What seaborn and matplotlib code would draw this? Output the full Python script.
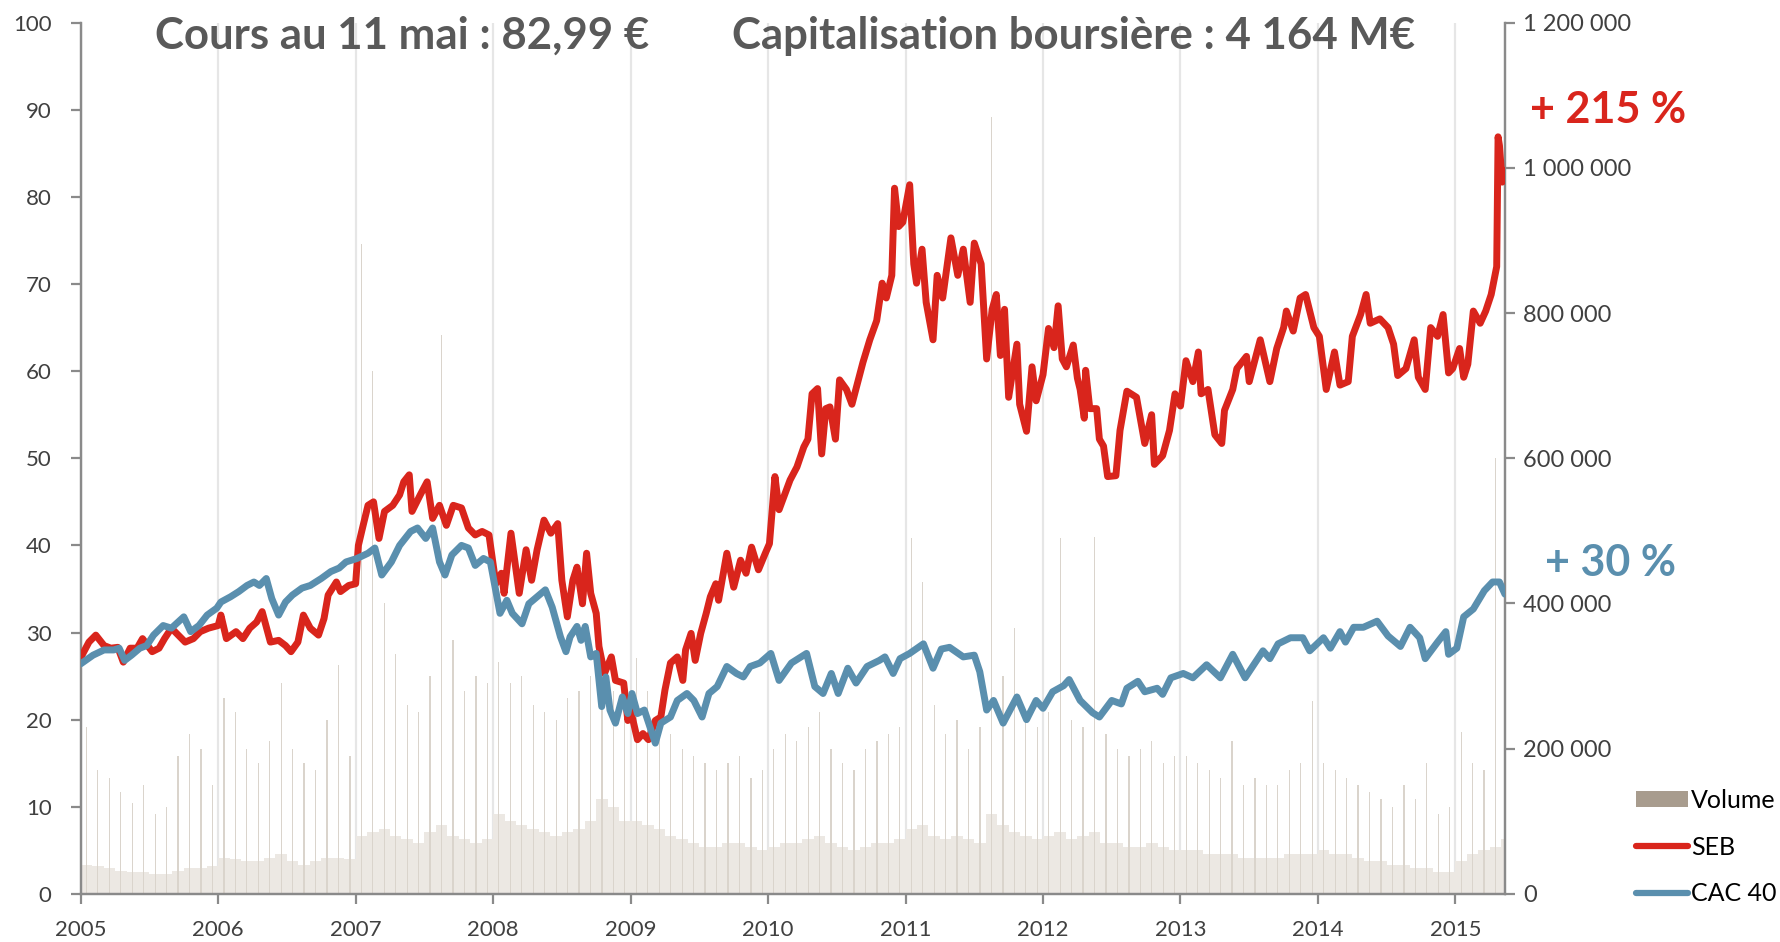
import numpy as np
import pandas as pd
import matplotlib
matplotlib.use("Agg")
import matplotlib.pyplot as plt
import seaborn as sns
from matplotlib.lines import Line2D
from matplotlib.patches import Patch
from matplotlib.ticker import FuncFormatter

# ---------------- data ----------------
seb_dates = [2005.00, 2005.01, 2005.06, 2005.11, 2005.17, 2005.22, 2005.27, 2005.31, 2005.36, 2005.41,
             2005.45, 2005.52, 2005.57, 2005.61, 2005.66, 2005.71, 2005.76, 2005.82, 2005.87, 2005.93,
             2006.00, 2006.02, 2006.06, 2006.13, 2006.18, 2006.23, 2006.28, 2006.32, 2006.38, 2006.44,
             2006.49, 2006.53, 2006.58, 2006.62, 2006.67, 2006.73, 2006.77, 2006.80, 2006.86, 2006.89,
             2006.95, 2007.00, 2007.02, 2007.05, 2007.09, 2007.13, 2007.17, 2007.21, 2007.27, 2007.32,
             2007.35, 2007.39, 2007.41, 2007.47, 2007.52, 2007.56, 2007.61, 2007.66, 2007.71, 2007.77,
             2007.82, 2007.87, 2007.92, 2007.97, 2008.02, 2008.06, 2008.08, 2008.13, 2008.19, 2008.24,
             2008.28, 2008.32, 2008.37, 2008.42, 2008.47, 2008.50, 2008.54, 2008.58, 2008.61, 2008.65,
             2008.68, 2008.71, 2008.75, 2008.77, 2008.81, 2008.86, 2008.89, 2008.95, 2008.98, 2009.00,
             2009.05, 2009.09, 2009.13, 2009.18, 2009.22, 2009.25, 2009.29, 2009.34, 2009.38, 2009.40,
             2009.44, 2009.47, 2009.51, 2009.55, 2009.58, 2009.62, 2009.64, 2009.70, 2009.75, 2009.80,
             2009.84, 2009.88, 2009.93, 2009.98, 2010.01, 2010.05, 2010.08, 2010.16, 2010.21, 2010.26,
             2010.29, 2010.32, 2010.36, 2010.39, 2010.42, 2010.45, 2010.49, 2010.52, 2010.57, 2010.61,
             2010.66, 2010.69, 2010.74, 2010.79, 2010.83, 2010.86, 2010.90, 2010.92, 2010.95, 2010.98,
             2011.03, 2011.06, 2011.08, 2011.12, 2011.15, 2011.20, 2011.23, 2011.27, 2011.33, 2011.38,
             2011.42, 2011.47, 2011.50, 2011.55, 2011.59, 2011.63, 2011.66, 2011.69, 2011.72, 2011.75,
             2011.81, 2011.83, 2011.88, 2011.92, 2011.95, 2012.00, 2012.04, 2012.08, 2012.11, 2012.14,
             2012.17, 2012.22, 2012.25, 2012.27, 2012.30, 2012.31, 2012.34, 2012.39, 2012.41, 2012.44,
             2012.47, 2012.53, 2012.56, 2012.61, 2012.68, 2012.74, 2012.79, 2012.81, 2012.87, 2012.92,
             2012.96, 2013.00, 2013.04, 2013.09, 2013.13, 2013.15, 2013.20, 2013.25, 2013.30, 2013.32,
             2013.38, 2013.41, 2013.48, 2013.50, 2013.58, 2013.65, 2013.70, 2013.75, 2013.77, 2013.82,
             2013.87, 2013.91, 2013.97, 2014.01, 2014.06, 2014.10, 2014.12, 2014.16, 2014.22, 2014.25,
             2014.31, 2014.35, 2014.38, 2014.45, 2014.51, 2014.55, 2014.58, 2014.64, 2014.70, 2014.73,
             2014.78, 2014.82, 2014.87, 2014.91, 2014.95, 2014.98, 2015.03, 2015.06, 2015.09, 2015.13,
             2015.18, 2015.22, 2015.26, 2015.29, 2015.30, 2015.31, 2015.32, 2015.34, 2015.35, 2015.36]
seb_values = [27.0, 27.4, 28.9, 29.7, 28.5, 28.2, 28.3, 26.6, 28.2, 28.2,
              29.3, 27.8, 28.2, 29.3, 30.5, 29.7, 28.9, 29.3, 30.1, 30.5,
              30.8, 32.0, 29.3, 30.1, 29.3, 30.5, 31.2, 32.4, 28.9, 29.1,
              28.5, 27.8, 28.9, 32.0, 30.5, 29.7, 31.6, 34.3, 35.8, 34.7,
              35.4, 35.6, 40.0, 42.0, 44.6, 45.0, 40.8, 43.9, 44.6, 45.8,
              47.3, 48.1, 43.9, 45.8, 47.3, 43.1, 44.6, 42.3, 44.6, 44.3,
              42.0, 41.2, 41.6, 41.2, 35.6, 36.8, 34.5, 41.4, 34.5, 39.5,
              36.0, 39.5, 42.9, 41.4, 42.5, 36.0, 31.8, 36.0, 37.5, 33.3,
              39.1, 34.5, 32.2, 28.4, 25.3, 27.2, 24.5, 24.2, 19.9, 21.1,
              17.7, 18.4, 17.7, 19.9, 20.3, 23.4, 26.5, 27.2, 24.5, 28.0,
              29.9, 26.8, 29.9, 32.2, 34.1, 35.6, 33.7, 39.1, 35.2, 38.3,
              36.8, 39.8, 37.2, 39.1, 40.2, 47.9, 44.1, 47.5, 49.0, 51.3,
              52.2, 57.4, 58.0, 50.5, 55.7, 55.9, 52.2, 59.0, 57.9, 56.2,
              59.2, 61.0, 63.6, 65.8, 70.1, 68.4, 71.0, 81.0, 76.6, 77.1,
              81.4, 72.3, 70.1, 74.0, 67.9, 63.6, 71.0, 68.4, 75.3, 71.0,
              74.0, 67.9, 74.7, 72.3, 61.4, 67.1, 68.8, 61.8, 67.1, 57.0,
              63.1, 56.2, 53.1, 60.5, 56.6, 59.6, 64.9, 62.7, 67.5, 61.4,
              60.5, 63.0, 59.2, 57.9, 54.6, 60.1, 55.7, 55.7, 52.2, 51.4,
              47.9, 48.0, 53.2, 57.7, 57.0, 51.7, 55.0, 49.3, 50.3, 53.2,
              57.4, 56.0, 61.2, 58.8, 62.2, 57.4, 57.9, 52.7, 51.7, 55.5,
              57.9, 60.3, 61.7, 58.8, 63.6, 58.8, 62.6, 65.0, 66.9, 64.6,
              68.4, 68.8, 65.0, 64.0, 57.9, 60.8, 62.2, 58.4, 58.8, 64.0,
              66.5, 68.8, 65.5, 66.0, 65.0, 63.1, 59.5, 60.3, 63.6, 59.3,
              57.9, 65.0, 64.0, 66.5, 59.8, 60.3, 62.6, 59.3, 60.8, 66.9,
              65.5, 66.9, 68.8, 71.2, 72.0, 86.9, 85.9, 81.7, 82.9, 82.99]

cac_dates = [2005.00, 2005.09, 2005.17, 2005.24, 2005.28, 2005.32, 2005.37, 2005.43, 2005.48, 2005.53,
             2005.60, 2005.66, 2005.75, 2005.80, 2005.86, 2005.92, 2005.99, 2006.02, 2006.09, 2006.15,
             2006.21, 2006.26, 2006.30, 2006.35, 2006.39, 2006.44, 2006.49, 2006.54, 2006.61, 2006.67,
             2006.75, 2006.82, 2006.88, 2006.93, 2007.01, 2007.09, 2007.14, 2007.19, 2007.26, 2007.32,
             2007.40, 2007.45, 2007.51, 2007.56, 2007.61, 2007.65, 2007.70, 2007.77, 2007.82, 2007.87,
             2007.93, 2007.98, 2008.05, 2008.10, 2008.14, 2008.21, 2008.26, 2008.32, 2008.38, 2008.43,
             2008.49, 2008.53, 2008.56, 2008.61, 2008.64, 2008.67, 2008.71, 2008.75, 2008.79, 2008.82,
             2008.85, 2008.89, 2008.94, 2008.98, 2009.01, 2009.05, 2009.10, 2009.14, 2009.18, 2009.22,
             2009.29, 2009.34, 2009.41, 2009.46, 2009.52, 2009.57, 2009.63, 2009.70, 2009.77, 2009.82,
             2009.87, 2009.94, 2010.02, 2010.08, 2010.17, 2010.28, 2010.34, 2010.40, 2010.46, 2010.51,
             2010.58, 2010.64, 2010.72, 2010.81, 2010.85, 2010.91, 2010.96, 2011.03, 2011.13, 2011.20,
             2011.26, 2011.32, 2011.42, 2011.50, 2011.54, 2011.59, 2011.64, 2011.71, 2011.81, 2011.88,
             2011.95, 2012.00, 2012.07, 2012.15, 2012.19, 2012.27, 2012.36, 2012.41, 2012.50, 2012.57,
             2012.61, 2012.69, 2012.74, 2012.83, 2012.87, 2012.93, 2013.02, 2013.09, 2013.19, 2013.29,
             2013.38, 2013.47, 2013.60, 2013.65, 2013.71, 2013.80, 2013.89, 2013.94, 2014.04, 2014.09,
             2014.16, 2014.20, 2014.26, 2014.33, 2014.43, 2014.51, 2014.60, 2014.67, 2014.74, 2014.78,
             2014.87, 2014.93, 2014.95, 2015.01, 2015.06, 2015.13, 2015.21, 2015.27, 2015.32, 2015.36]
cac_values = [26.4, 27.4, 28.0, 28.0, 28.2, 26.8, 27.4, 28.2, 28.5, 29.7,
              30.8, 30.5, 31.8, 30.1, 30.8, 32.0, 32.8, 33.5, 34.1, 34.7,
              35.4, 35.8, 35.4, 36.2, 33.9, 32.0, 33.5, 34.3, 35.1, 35.4,
              36.2, 37.0, 37.4, 38.1, 38.5, 39.1, 39.7, 36.6, 38.1, 40.0,
              41.6, 42.0, 40.8, 42.0, 38.1, 36.6, 38.9, 40.0, 39.7, 37.7,
              38.5, 38.1, 32.2, 33.7, 32.2, 31.0, 33.3, 34.1, 34.9, 32.9,
              29.5, 27.8, 29.5, 30.7, 29.1, 30.7, 27.2, 27.6, 21.5, 24.9,
              21.1, 19.6, 22.6, 20.7, 23.0, 20.7, 21.1, 19.2, 17.3, 19.6,
              20.3, 22.2, 23.0, 22.2, 20.3, 23.0, 23.8, 26.1, 25.3, 24.9,
              26.1, 26.5, 27.6, 24.5, 26.5, 27.6, 23.8, 23.0, 25.3, 23.0,
              25.9, 24.2, 26.1, 26.8, 27.2, 25.3, 27.0, 27.6, 28.7, 25.9,
              28.1, 28.3, 27.2, 27.4, 25.5, 21.1, 22.2, 19.6, 22.6, 20.0,
              22.2, 21.3, 23.2, 23.9, 24.6, 22.2, 20.8, 20.3, 22.2, 21.8,
              23.6, 24.4, 23.2, 23.6, 22.9, 24.8, 25.3, 24.8, 26.3, 24.8,
              27.5, 24.8, 27.9, 27.0, 28.7, 29.4, 29.4, 27.9, 29.4, 28.2,
              30.1, 28.9, 30.6, 30.6, 31.3, 29.6, 28.4, 30.6, 29.4, 27.0,
              28.9, 30.1, 27.5, 28.2, 31.8, 32.7, 34.8, 35.8, 35.8, 34.4]

# monthly volume (thousands of shares): typical daily level and monthly peak
vol_base = [40, 38, 35, 32, 30, 30, 28, 28, 32, 35, 35, 38,
            50, 48, 45, 45, 50, 55, 45, 40, 45, 50, 50, 48,
            80, 85, 90, 80, 75, 70, 85, 95, 80, 75, 70, 75,
            110, 100, 95, 90, 85, 80, 85, 90, 100, 130, 120, 100,
            100, 95, 90, 80, 75, 70, 65, 65, 70, 70, 65, 60,
            65, 70, 70, 75, 80, 70, 65, 60, 65, 70, 70, 75,
            90, 95, 80, 75, 80, 75, 70, 110, 95, 85, 80, 75,
            80, 85, 75, 80, 85, 70, 70, 65, 65, 70, 65, 60,
            60, 60, 55, 55, 55, 50, 50, 50, 50, 55, 55, 55,
            60, 55, 55, 50, 45, 45, 40, 40, 35, 35, 30, 30,
            45, 55, 60, 65, 75]
vol_peak = [230, 170, 160, 140, 125, 150, 110, 120, 190, 220, 200, 150,
            270, 250, 200, 180, 210, 290, 200, 180, 170, 240, 315, 190,
            895, 720, 400, 330, 260, 250, 300, 770, 350, 280, 300, 290,
            320, 290, 300, 260, 250, 240, 270, 280, 300, 320, 280, 260,
            325, 280, 260, 220, 200, 190, 180, 170, 180, 190, 160, 170,
            200, 220, 210, 230, 250, 200, 180, 170, 200, 210, 220, 230,
            490, 430, 260, 220, 240, 200, 230, 1070, 300, 366, 250, 230,
            250, 490, 240, 230, 492, 220, 200, 190, 200, 210, 180, 190,
            190, 180, 170, 160, 210, 150, 160, 150, 150, 170, 180, 265,
            180, 170, 160, 150, 140, 130, 120, 150, 130, 180, 110, 120,
            223, 180, 170, 600, 255]

years = list(range(2005, 2016))
left_ticks = list(range(0, 101, 10))
right_ticks = list(range(0, 1200001, 200000))

title_left = "Cours au 11 mai : 82,99 €"
title_right = "Capitalisation boursière : 4 164 M€"
perf_seb = "+ 215 %"
perf_cac = "+ 30 %"

# ---------------- style ----------------
RED = "#D9251C"
BLUE = "#5A8FAE"
VOL_LEG = "#A89C8E"
GREY_TXT = "#595959"
SPINE = "#8A8A8A"

sns.set_theme(style="white")
plt.rcParams["font.family"] = ["Lato", "DejaVu Sans"]

W, H = 1781, 942
fig = plt.figure(figsize=(W / 100, H / 100), dpi=100)
ax = fig.add_axes([0.0453, 0.0511, 0.7997, 0.9248])  # volume axis (right scale)
ax2 = ax.twinx()                                      # price axis (left scale)
ax.yaxis.tick_right()
ax2.yaxis.tick_left()
ax2.yaxis.set_label_position("left")

xmin, xmax = 2005.0, 2015.36

# volume bars
months = 2005 + np.arange(len(vol_base)) / 12.0
vol_df = pd.DataFrame({"t": months, "base": np.array(vol_base) * 1000,
                       "peak": np.array(vol_peak) * 1000})
ax.bar(vol_df["t"], vol_df["base"], width=1 / 12, align="edge",
       color="#ECE8E3", linewidth=0, zorder=2)
ax.bar(vol_df["t"] + 1 / 24, vol_df["peak"], width=0.009, align="center",
       color="#DAD4CC", linewidth=0, zorder=2)

# year gridlines
for y in years:
    ax.axvline(y, color="#E6E6E6", lw=1.6, zorder=1)

ax.set_ylim(0, 1200000)
ax.set_xlim(xmin, xmax)
ax.set_yticks(right_ticks)
ax.yaxis.set_major_formatter(FuncFormatter(lambda v, p: f"{int(v):,}".replace(",", " ")))

# price lines
seb_df = pd.DataFrame({"t": seb_dates, "v": seb_values})
cac_df = pd.DataFrame({"t": cac_dates, "v": cac_values})
sns.lineplot(data=seb_df, x="t", y="v", ax=ax2, color=RED, linewidth=5.0,
             estimator=None, sort=False, legend=False,
             solid_joinstyle="round", solid_capstyle="round", zorder=4)
sns.lineplot(data=cac_df, x="t", y="v", ax=ax2, color=BLUE, linewidth=5.0,
             estimator=None, sort=False, legend=False,
             solid_joinstyle="round", solid_capstyle="round", zorder=5)
ax2.set_ylim(0, 100)
ax2.set_xlim(xmin, xmax)
ax2.set_yticks(left_ticks)
ax2.set_xlabel("")
ax2.set_ylabel("")
ax.set_xlabel("")
ax.set_ylabel("")

ax.set_xticks(years)
ax.set_xticklabels([str(y) for y in years])

for a in (ax, ax2):
    for s in a.spines.values():
        s.set_color(SPINE)
        s.set_linewidth(1.6)
    a.spines["top"].set_visible(False)
    a.grid(False)

ax.tick_params(axis="x", direction="out", length=7, width=1.6, color=SPINE,
               labelsize=16, labelcolor="#404040", pad=12, bottom=True)
ax.tick_params(axis="y", direction="out", length=7, width=1.6, color=SPINE,
               labelsize=17, labelcolor="#404040", pad=6, right=True, left=False)
ax2.tick_params(axis="y", direction="out", length=7, width=1.6, color=SPINE,
                labelsize=16, labelcolor="#404040", pad=14, left=True, right=False)

# titles
fig.text(402 / W, 1 - 36 / H, title_left, ha="center", va="center",
         fontsize=31.5, fontweight="bold", color=GREY_TXT)
fig.text(1074 / W, 1 - 36 / H, title_right, ha="center", va="center",
         fontsize=31.5, fontweight="bold", color=GREY_TXT)

# performance annotations
fig.text(1530 / W, 1 - 110 / H, perf_seb, ha="left", va="center",
         fontsize=31, fontweight="bold", color=RED)
fig.text(1545 / W, 1 - 563 / H, perf_cac, ha="left", va="center",
         fontsize=31, fontweight="bold", color=BLUE)

# legend
handles = [Patch(facecolor=VOL_LEG, edgecolor="none"),
           Line2D([0], [0], color=RED, lw=4.5, solid_capstyle="round"),
           Line2D([0], [0], color=BLUE, lw=4.5, solid_capstyle="round")]
fig.legend(handles, ["Volume", "SEB", "CAC 40"], loc="lower left",
           bbox_to_anchor=(1636 / W, 0.039), frameon=False, fontsize=18,
           handlelength=2.1, handleheight=0.6, handletextpad=0.1,
           labelspacing=0.95, borderpad=0, borderaxespad=0,
           labelcolor="black")

fig.savefig("out.png", dpi=100)
